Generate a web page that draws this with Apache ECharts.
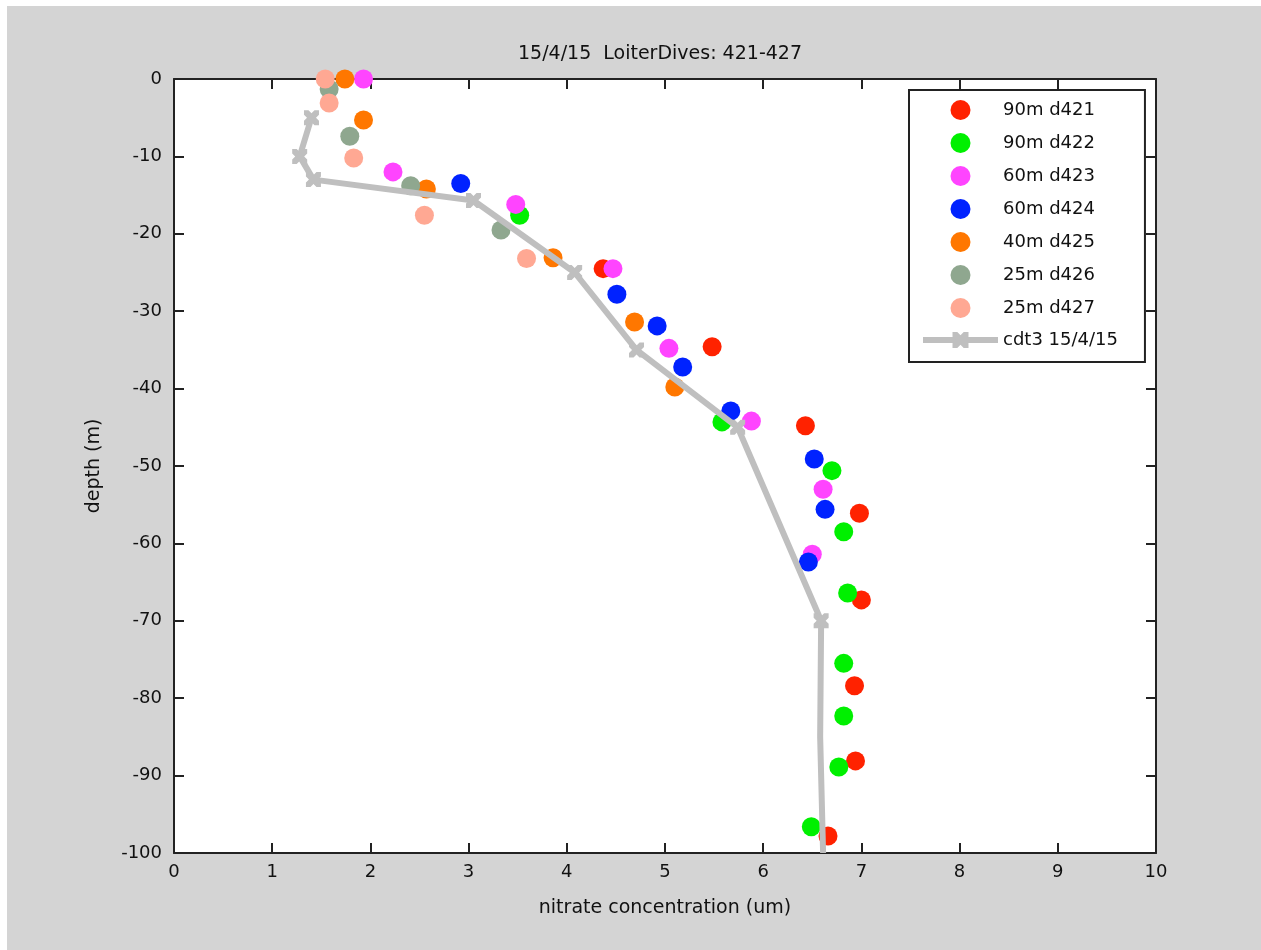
<!DOCTYPE html>
<html>
<head>
<meta charset="utf-8">
<script src="https://cdn.jsdelivr.net/npm/echarts@6/dist/echarts.min.js"></script>
<style>
html,body{margin:0;padding:0;background:#fff;}
#bg{position:absolute;left:7px;top:6px;width:1254px;height:944px;background:#d4d4d4;}
#chart{position:absolute;left:0;top:0;width:1261px;height:950px;}
</style>
</head>
<body>
<div id="bg"></div>
<div id="chart"></div>
<script>
// ---- data (nitrate umol, depth m) ----
const titleText = '15/4/15  LoiterDives: 421-427';
const seriesNames = ['90m d421','90m d422','60m d423','60m d424','40m d425','25m d426','25m d427','cdt3 15/4/15'];
const seriesColors = ['#ff2200','#00f000','#ff44ff','#0022ff','#ff7700','#8fa78f','#ffa893','#bfbfbf'];

const d421 = [[4.37,-24.5],[5.48,-34.6],[6.43,-44.8],[6.98,-56.1],[7.00,-67.3],[6.93,-78.4],[6.94,-88.1],[6.66,-97.8]];
const d422 = [[3.52,-17.6],[5.58,-44.3],[6.70,-50.6],[6.82,-58.5],[6.86,-66.4],[6.82,-75.5],[6.82,-82.3],[6.77,-88.9],[6.49,-96.6]];
const d423 = [[1.93,0],[2.23,-12.0],[3.48,-16.2],[4.47,-24.5],[5.04,-34.8],[5.88,-44.2],[6.61,-53.0],[6.50,-61.4]];
const d424 = [[2.92,-13.5],[4.51,-27.8],[4.92,-31.9],[5.18,-37.2],[5.67,-42.9],[6.52,-49.1],[6.63,-55.6],[6.46,-62.4]];
const d425 = [[1.74,0],[1.93,-5.3],[2.57,-14.2],[3.86,-23.1],[4.69,-31.4],[5.10,-39.8]];
const d426 = [[1.58,-1.3],[1.79,-7.4],[2.41,-13.8],[3.33,-19.5]];
const d427 = [[1.54,0],[1.58,-3.1],[1.83,-10.2],[2.55,-17.6],[3.59,-23.2]];

const ctd = [[1.40,-5],[1.28,-10],[1.42,-13],[3.05,-15.7],[4.08,-25],[4.71,-35],[5.74,-45],[6.59,-70],[6.58,-85],[6.61,-100]];
const ctdMarked = [true,true,true,true,true,true,true,true,false,false];

const xTicks = [0,1,2,3,4,5,6,7,8,9,10];
const yTicks = [0,-10,-20,-30,-40,-50,-60,-70,-80,-90,-100];

const FONT = 'DejaVu Sans';
const xMark = 'path://M0,0 L3,0 L5,2 L7,0 L10,0 L10,3 L8,5 L10,7 L10,10 L7,10 L5,8 L3,10 L0,10 L0,7 L2,5 L0,3 Z';

const scatterSets = [d421,d422,d423,d424,d425,d426,d427];

const chart = echarts.init(document.getElementById('chart'), null, {renderer:'canvas'});

const series = scatterSets.map((d,i)=>({
  name: seriesNames[i],
  type: 'scatter',
  data: d,
  symbol: 'circle',
  symbolSize: 19,
  clip: false,
  itemStyle: {color: seriesColors[i], opacity: 1},
  z: 3 + i
}));
series.push({
  name: seriesNames[7],
  type: 'line',
  data: ctd.map((p,i)=> ctdMarked[i] ? {value:p} : {value:p, symbol:'none'}),
  symbol: xMark,
  symbolSize: 15,
  showSymbol: true,
  showAllSymbol: true,
  clip: false,
  lineStyle: {color: seriesColors[7], width: 6},
  itemStyle: {color: seriesColors[7]},
  z: 20
});

const axisCommon = {
  type: 'value',
  axisLine: {show:true, onZero:false, lineStyle:{color:'#222', width:2}},
  axisTick: {show:true, inside:true, length:10, lineStyle:{color:'#222', width:2}},
  splitLine: {show:false}
};

const legendData = seriesNames.map((n,i)=> i===7
  ? {name:n, lineStyle:{width:6, color:seriesColors[7]}, itemStyle:{color:seriesColors[7]}}
  : {name:n});

const option = {
  animation: false,
  title: {
    text: titleText,
    left: 655, top: 40, textAlign: 'center',
    textStyle: {fontFamily: FONT, fontSize: 19, fontWeight: 'normal', color: '#111'}
  },
  grid: {left: 174, top: 79, width: 982, height: 774, show: true, backgroundColor: '#fff', borderWidth: 0, containLabel: false},
  xAxis: [
    Object.assign({}, axisCommon, {
      position: 'bottom', min: xTicks[0], max: xTicks[xTicks.length-1], interval: 1,
      name: 'nitrate concentration (um)', nameLocation: 'middle', nameGap: 46,
      nameTextStyle: {fontFamily: FONT, fontSize: 19, color: '#111'},
      axisLabel: {show:true, margin: 10, fontFamily: FONT, fontSize: 18, color: '#111'}
    }),
    Object.assign({}, axisCommon, {
      position: 'top', min: xTicks[0], max: xTicks[xTicks.length-1], interval: 1,
      axisLabel: {show:false}
    })
  ],
  yAxis: [
    Object.assign({}, axisCommon, {
      position: 'left', min: yTicks[yTicks.length-1], max: yTicks[0], interval: 10,
      name: 'depth (m)', nameLocation: 'middle', nameGap: 70, nameRotate: 90,
      nameTextStyle: {fontFamily: FONT, fontSize: 19, color: '#111'},
      axisLabel: {show:true, margin: 12, fontFamily: FONT, fontSize: 18, color: '#111'}
    }),
    Object.assign({}, axisCommon, {
      position: 'right', min: yTicks[yTicks.length-1], max: yTicks[0], interval: 10,
      axisLabel: {show:false}
    })
  ],
  legend: {
    show: true,
    orient: 'vertical',
    left: 909, top: 90,
    data: legendData,
    itemWidth: 75, itemHeight: 20, itemGap: 13,
    padding: [10, 27, 13, 11],
    backgroundColor: '#fff',
    borderColor: '#222', borderWidth: 2, borderRadius: 0,
    textStyle: {fontFamily: FONT, fontSize: 18, color: '#111'},
    selectedMode: false
  },
  series: series
};
chart.setOption(option);
</script>
</body>
</html>
